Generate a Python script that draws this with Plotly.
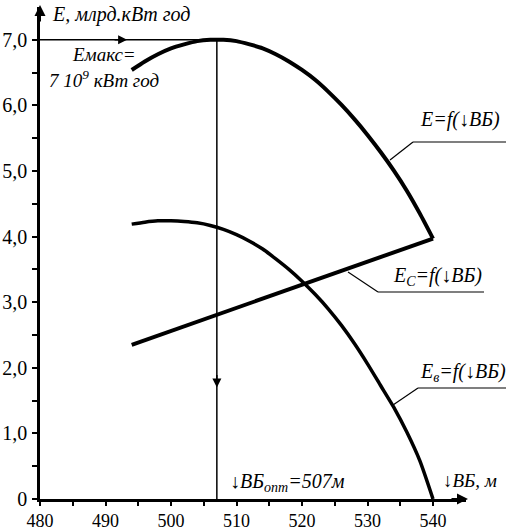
import plotly.graph_objects as go

# ---- data ----
bb_E = [494, 496, 498, 500, 502, 504, 506, 508, 510, 512, 514, 516,
        518, 520, 522, 524, 526, 528, 530, 532, 534, 536, 538, 540]
E_total = [6.54, 6.67, 6.78, 6.87, 6.93, 6.98, 7.00, 7.00, 6.98, 6.93, 6.87, 6.78,
           6.67, 6.54, 6.39, 6.21, 6.01, 5.79, 5.55, 5.29, 5.01, 4.70, 4.35, 3.97]

bb_Ev = [494, 496, 498, 500, 502, 504, 506, 508, 510, 512, 514, 516,
         518, 520, 522, 524, 526, 528, 530, 532, 534, 536, 538, 540]
E_v = [4.19, 4.22, 4.24, 4.24, 4.23, 4.21, 4.17, 4.11, 4.03, 3.93, 3.81, 3.66,
       3.50, 3.32, 3.12, 2.90, 2.65, 2.37, 2.06, 1.73, 1.40, 1.02, 0.58, 0.00]

bb_Ec = [494, 540]
E_c = [2.35, 3.97]

bb_opt = 507
E_max = 7.0

x_tickvals = [480, 485, 490, 495, 500, 505, 510, 515, 520, 525, 530, 535, 540]
x_ticktext = ["480", "", "490", "", "500", "", "510", "", "520", "", "530", "", "540"]
y_tickvals = [0, 0.5, 1, 1.5, 2, 2.5, 3, 3.5, 4, 4.5, 5, 5.5, 6, 6.5, 7]
y_ticktext = ["0", "", "1,0", "", "2,0", "", "3,0", "", "4,0", "", "5,0", "", "6,0", "", "7,0"]

# ---- layout geometry ----
W, H = 506, 531
ML, MR, MT, MB = 40, 40, 7, 32
PW, PH = W - ML - MR, H - MT - MB


def px(xp):
    return (xp - ML) / PW


def py(yp):
    return (H - MB - yp) / PH


FONT = "Liberation Serif"
BLACK = "black"

fig = go.Figure()

fig.add_trace(go.Scatter(x=bb_E, y=E_total, mode="lines",
                         line=dict(color=BLACK, width=4, shape="spline", smoothing=0.6),
                         hoverinfo="skip"))
fig.add_trace(go.Scatter(x=bb_Ev, y=E_v, mode="lines",
                         line=dict(color=BLACK, width=3.5, shape="spline", smoothing=0.6),
                         hoverinfo="skip"))
fig.add_trace(go.Scatter(x=bb_Ec, y=E_c, mode="lines",
                         line=dict(color=BLACK, width=4),
                         hoverinfo="skip"))
# optimum guide lines
fig.add_trace(go.Scatter(x=[480, bb_opt], y=[E_max, E_max], mode="lines",
                         line=dict(color=BLACK, width=1.5), hoverinfo="skip"))
fig.add_trace(go.Scatter(x=[bb_opt, bb_opt], y=[E_max, 0], mode="lines",
                         line=dict(color=BLACK, width=1.5), hoverinfo="skip"))

annotations = []
# arrowheads on guide lines
annotations.append(dict(x=493.3, y=E_max, ax=-14, ay=0, xref="x", yref="y",
                        axref="pixel", ayref="pixel", showarrow=True, arrowhead=2,
                        arrowsize=1.2, arrowwidth=1.5, arrowcolor=BLACK, text=""))
annotations.append(dict(x=bb_opt, y=1.7, ax=0, ay=-14, xref="x", yref="y",
                        axref="pixel", ayref="pixel", showarrow=True, arrowhead=2,
                        arrowsize=1.2, arrowwidth=1.5, arrowcolor=BLACK, text=""))
# axis arrowheads
annotations.append(dict(x=px(40), y=py(5), ax=0, ay=18, xref="paper", yref="paper",
                        axref="pixel", ayref="pixel", showarrow=True, arrowhead=2,
                        arrowsize=1.1, arrowwidth=2, arrowcolor=BLACK, text=""))
annotations.append(dict(x=px(468), y=py(499), ax=-18, ay=0, xref="paper", yref="paper",
                        axref="pixel", ayref="pixel", showarrow=True, arrowhead=2,
                        arrowsize=1.1, arrowwidth=2, arrowcolor=BLACK, text=""))


def label(text, xp, yp, size=20):
    annotations.append(dict(x=px(xp), y=py(yp), xref="paper", yref="paper",
                            text=text, showarrow=False, xanchor="left", yanchor="middle",
                            font=dict(family=FONT, size=size, color=BLACK)))


label("<i>E, млрд.кВт год</i>", 50, 15, 20)
label("<i>Емакс=</i>", 70, 55, 19)
label("<i>7 10<sup>9</sup> кВт год</i>", 47, 79, 19)
label("<i>E=f(↓ВБ)</i>", 418, 119, 20)
label("<i>E<sub>C</sub>=f(↓ВБ)</i>", 391, 276, 20)
label("<i>E<sub>в</sub>=f(↓ВБ)</i>", 418, 372, 20)
label("<i>↓ВБ<sub>опт</sub>=507м</i>", 228, 482, 20)
label("<i>↓ВБ, м</i>", 441, 480, 19)

shapes = []


def seg(x0, y0, x1, y1, w=1.2):
    shapes.append(dict(type="line", xref="paper", yref="paper",
                       x0=px(x0), y0=py(y0), x1=px(x1), y1=py(y1),
                       line=dict(color=BLACK, width=w)))


seg(390, 160, 413, 142)
seg(413, 142, 506, 142)
seg(348, 272, 378, 292)
seg(378, 292, 484, 292)
seg(393, 405, 418, 388)
seg(418, 388, 506, 388)

fig.update_layout(
    width=W, height=H,
    margin=dict(l=ML, r=MR, t=MT, b=MB, autoexpand=False),
    paper_bgcolor="white", plot_bgcolor="white",
    showlegend=False,
    font=dict(family=FONT, color=BLACK),
    annotations=annotations,
    shapes=shapes,
    xaxis=dict(range=[480, 480 + PW / 6.55], showgrid=False, zeroline=False,
               automargin=False,
               showline=True, linecolor=BLACK, linewidth=2.5,
               ticks="outside", ticklen=4, tickwidth=2, tickcolor=BLACK,
               tickvals=x_tickvals, ticktext=x_ticktext,
               tickfont=dict(family=FONT, size=18, color=BLACK)),
    yaxis=dict(range=[0, PH / 65.6], showgrid=False, zeroline=False,
               automargin=False,
               showline=True, linecolor=BLACK, linewidth=2.5,
               ticks="outside", ticklen=5, tickwidth=2, tickcolor=BLACK,
               ticklabelstandoff=1,
               tickvals=y_tickvals, ticktext=y_ticktext,
               tickfont=dict(family=FONT, size=20, color=BLACK)),
)

fig.write_html("out.html")
